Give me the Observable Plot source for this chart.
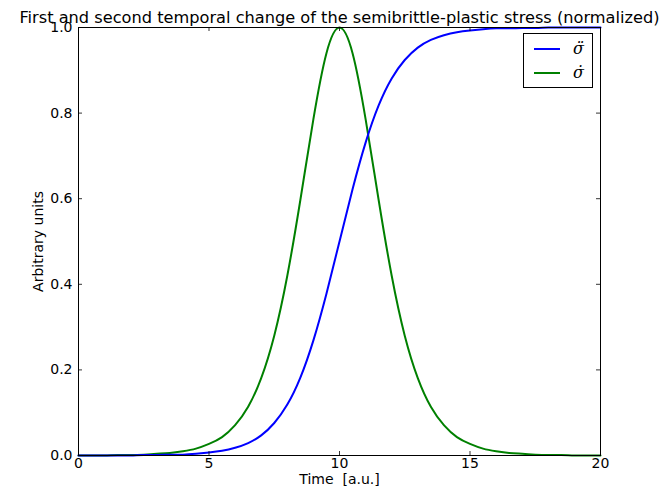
<!DOCTYPE html>
<html>
<head>
<meta charset="utf-8">
<script src="https://cdn.jsdelivr.net/npm/d3@7"></script>
<script src="https://cdn.jsdelivr.net/npm/@observablehq/plot@0.6"></script>
<style>
  html, body { margin: 0; padding: 0; background: #fff; }
  #wrap { position: relative; width: 672px; height: 493px; font-family: "DejaVu Sans", sans-serif; }
  #legend { position: absolute; left: 523px; top: 33px; width: 68px; height: 53px; border: 1px solid #000; background: #fff; }
  .row { position: absolute; left: 0; width: 100%; height: 20px; }
  .sw { position: absolute; left: 10px; width: 26px; height: 0; border-top: 2px solid; top: 9px; }
  .lb { position: absolute; left: 49px; top: 0; font-family: "DejaVu Serif", serif; font-style: italic; font-size: 16px; line-height: 20px; }
</style>
</head>
<body>
<div id="wrap"></div>
<script>
const time = [0,0.5,1,1.5,2,2.5,3,3.5,4,4.5,5,5.5,6,6.5,7,7.5,8,8.5,9,9.5,10,10.5,11,11.5,12,12.5,13,13.5,14,14.5,15,15.5,16,16.5,17,17.5,18,18.5,19,19.5,20];
const sigmaDDot = [0.000,0.000,0.000,0.000,0.000,0.001,0.001,0.002,0.002,0.004,0.007,0.011,0.018,0.029,0.047,0.076,0.119,0.182,0.269,0.378,0.500,0.622,0.731,0.818,0.881,0.924,0.953,0.971,0.982,0.989,0.993,0.996,0.998,0.998,0.999,0.999,1.000,1.000,1.000,1.000,1.000];
const sigmaDot = [0.000,0.000,0.000,0.001,0.001,0.002,0.004,0.006,0.010,0.016,0.027,0.043,0.071,0.114,0.181,0.280,0.420,0.597,0.786,0.940,1.000,0.940,0.786,0.597,0.420,0.280,0.181,0.114,0.071,0.043,0.027,0.016,0.010,0.006,0.004,0.002,0.001,0.001,0.000,0.000,0.000];
const xTicks = [0,5,10,15,20];
const yTicks = [0,0.2,0.4,0.6,0.8,1.0];
const seriesLabels = ["\u03C3\u0308", "\u03C3\u0307"];
const seriesColors = ["#0000ff", "#008000"];
const title = "First and second temporal change of the semibrittle-plastic stress (normalized)";
const xLabel = "Time\u00a0 [a.u.]";
const yLabel = "Arbitrary units";

const blue = time.map((t, i) => ({t, v: sigmaDDot[i]}));
const green = time.map((t, i) => ({t, v: sigmaDot[i]}));

const W = 672, H = 493, mt = 27, mb = 38, ml = 78, mr = 72;
const ph = H - mt - mb, pw = W - ml - mr;

const chart = Plot.plot({
  width: W, height: H,
  marginTop: mt, marginBottom: mb, marginLeft: ml, marginRight: mr,
  style: {fontFamily: "DejaVu Sans, sans-serif", fontSize: "14px", background: "#fff", overflow: "visible"},
  x: {domain: [0, 20]},
  y: {domain: [0, 1]},
  marks: [
    Plot.line(green, {x: "t", y: "v", stroke: seriesColors[1], strokeWidth: 2, curve: "natural"}),
    Plot.line(blue, {x: "t", y: "v", stroke: seriesColors[0], strokeWidth: 2, curve: "natural"}),
    Plot.ruleX(xTicks, {x: d => d, insetTop: ph - 4, stroke: "#000", strokeWidth: 0.8}),
    Plot.ruleX(xTicks, {x: d => d, insetBottom: ph - 4, stroke: "#000", strokeWidth: 0.8}),
    Plot.ruleY(yTicks, {y: d => d, insetRight: pw - 4, stroke: "#000", strokeWidth: 0.8}),
    Plot.ruleY(yTicks, {y: d => d, insetLeft: pw - 4, stroke: "#000", strokeWidth: 0.8}),
    Plot.frame({stroke: "#000", strokeWidth: 1}),
    Plot.axisX({ticks: xTicks, tickSize: 0, tickPadding: 3, tickFormat: d => String(d), label: null, fontSize: 14, fill: "#000"}),
    Plot.axisY({ticks: yTicks, tickSize: 0, tickPadding: 6, tickFormat: d3.format(".1f"), label: null, fontSize: 14, fill: "#000"}),
    Plot.text([xLabel], {frameAnchor: "bottom", dy: 28, text: d => d, fontSize: 14, fill: "#000"}),
    Plot.text([yLabel], {frameAnchor: "left", dx: -40, rotate: -90, textAnchor: "middle", text: d => d, fontSize: 14, fill: "#000"}),
    Plot.text([title], {frameAnchor: "top", dy: -16, text: d => d, fontSize: 16.2, fill: "#000"})
  ]
});

const wrap = document.getElementById("wrap");
wrap.appendChild(chart);
const legend = document.createElement("div");
legend.id = "legend";
seriesLabels.forEach((lab, i) => {
  const row = document.createElement("div");
  row.className = "row";
  row.style.top = (5 + i * 24) + "px";
  const sw = document.createElement("div");
  sw.className = "sw";
  sw.style.borderTopColor = seriesColors[i];
  const lb = document.createElement("div");
  lb.className = "lb";
  lb.textContent = lab;
  row.appendChild(sw); row.appendChild(lb);
  legend.appendChild(row);
});
wrap.appendChild(legend);
</script>
</body>
</html>
